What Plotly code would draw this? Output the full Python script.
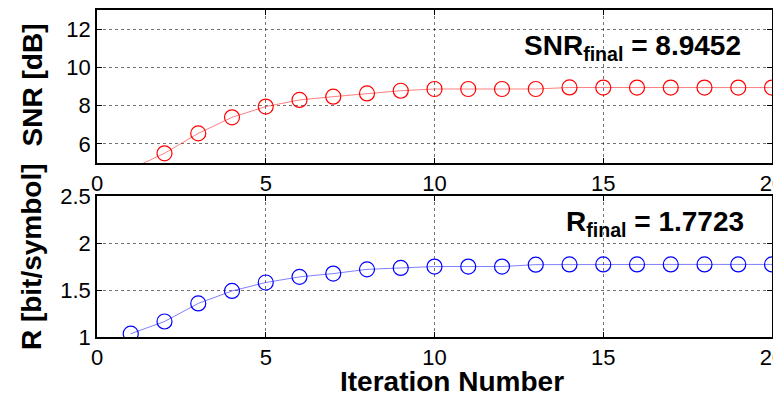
import plotly.graph_objects as go

iterations = list(range(1, 21))
snr_db = [4.68, 5.51, 6.55, 7.39, 7.95, 8.30, 8.47, 8.64, 8.78, 8.87,
          8.87, 8.87, 8.87, 8.95, 8.9452, 8.9452, 8.9452, 8.9452, 8.9452, 8.9452]
rate = [1.035, 1.165, 1.357, 1.49, 1.58, 1.64, 1.675, 1.72, 1.735, 1.75,
        1.75, 1.75, 1.77, 1.7723, 1.7723, 1.7723, 1.7723, 1.7723, 1.7723, 1.7723]
x_ticks = [0, 5, 10, 15, 20]
snr_ticks = [6, 8, 10, 12]
rate_ticks = [1, 1.5, 2, 2.5]
snr_range = [5, 13]
rate_range = [1, 2.5]

FONT = "Liberation Sans, Arial, sans-serif"

# like MATLAB, hide markers whose centre falls outside the axis range
snr_marker_opacity = [1 if snr_range[0] <= v <= snr_range[1] else 0 for v in snr_db]

fig = go.Figure()
fig.add_trace(go.Scatter(
    x=iterations, y=snr_db, mode="lines+markers",
    line=dict(color="rgba(255,0,0,0.5)", width=1),
    marker=dict(symbol="circle-open", size=15, color="red", line=dict(width=1.2),
                opacity=snr_marker_opacity),
    xaxis="x", yaxis="y", showlegend=False, cliponaxis=True))
fig.add_trace(go.Scatter(
    x=iterations, y=rate, mode="lines+markers",
    line=dict(color="rgba(0,0,255,0.5)", width=1),
    marker=dict(symbol="circle-open", size=15, color="blue", line=dict(width=1.2)),
    xaxis="x2", yaxis="y2", showlegend=False, cliponaxis=True))

axis_common = dict(
    showline=True, linecolor="black", linewidth=1.5, mirror="allticks",
    ticks="inside", ticklen=5, tickcolor="black", automargin=False,
    showgrid=True, gridcolor="rgba(0,0,0,0.55)", griddash="dot", gridwidth=1,
    zeroline=False, tickfont=dict(family=FONT, size=22, color="black"),
    ticklabeloverflow="allow",
)

# page body has an 8px default margin; figure is sized so the plot sits
# where the reference places it inside the 781x394 window
fig.update_layout(
    template="none",
    width=773, height=386,
    margin=dict(l=89, r=9, t=2, b=57, pad=0),
    paper_bgcolor="white", plot_bgcolor="white",
    xaxis=dict(range=[0, 20], tickvals=x_ticks, domain=[0, 1], anchor="y", **axis_common),
    yaxis=dict(range=snr_range, tickvals=snr_ticks, domain=[0.532, 1], anchor="x", **axis_common),
    xaxis2=dict(range=[0, 20], tickvals=x_ticks, domain=[0, 1], anchor="y2", **axis_common),
    yaxis2=dict(range=rate_range, tickvals=rate_ticks, domain=[0, 0.431], anchor="x2", **axis_common),
    annotations=[
        dict(text="<b>SNR<sub>final</sub> = 8.9452</b>", xref="x", yref="y",
             x=12.6, y=11.05, xanchor="left", yanchor="middle", showarrow=False,
             font=dict(family=FONT, size=28, color="black")),
        dict(text="<b>R<sub>final</sub> = 1.7723</b>", xref="x2", yref="y2",
             x=13.85, y=2.21, xanchor="left", yanchor="middle", showarrow=False,
             font=dict(family=FONT, size=28, color="black")),
        dict(text="<b>SNR [dB]</b>", xref="paper", yref="paper",
             x=-0.096, y=0.77, xanchor="center", yanchor="middle", textangle=-90,
             showarrow=False, font=dict(family=FONT, size=28, color="black")),
        dict(text="<b>R [bit/symbol]</b>", xref="paper", yref="paper",
             x=-0.096, y=0.245, xanchor="center", yanchor="middle", textangle=-90,
             showarrow=False, font=dict(family=FONT, size=28, color="black")),
        dict(text="<b>Iteration Number</b>", xref="paper", yref="paper",
             x=0.526, y=-0.137, xanchor="center", yanchor="middle",
             showarrow=False, font=dict(family=FONT, size=28, color="black")),
    ],
)

fig.write_html("out.html")
